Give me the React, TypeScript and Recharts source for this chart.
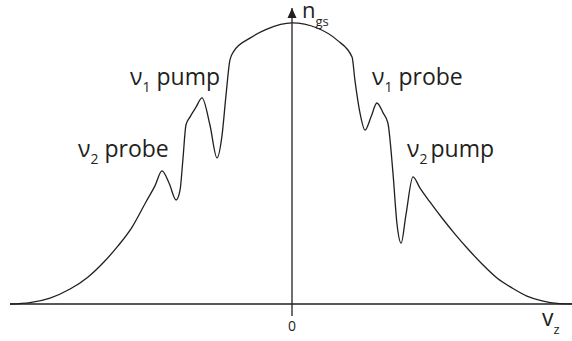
import { LineChart, Line, XAxis, YAxis, ReferenceLine, ReferenceDot } from "recharts";

// ground-state population vs. axial velocity, with burned holes
const vz = [
  -10, -9.29, -8.58, -7.87, -7.23, -6.67, -6.17, -5.67, -5.18, -4.86, -4.61, -4.36, -4.11,
  -3.97, -3.87, -3.76, -3.62, -3.4, -3.19, -2.91, -2.66, -2.48, -2.34, -2.2, -2.06, -1.49,
  -0.89, 0, 0.89, 1.6, 2.13, 2.23, 2.41, 2.59, 2.8, 3.01, 3.23, 3.4, 3.58, 3.72, 3.87, 4.04,
  4.29, 4.54, 4.89, 5.32, 5.78, 6.24, 6.74, 7.27, 7.8, 8.33, 8.87, 9.4, 10,
];
const ngs = [
  0, 0.005, 0.021, 0.053, 0.096, 0.149, 0.206, 0.273, 0.362, 0.419, 0.472, 0.429, 0.369,
  0.404, 0.511, 0.635, 0.663, 0.699, 0.731, 0.635, 0.518, 0.599, 0.741, 0.866, 0.897, 0.943,
  0.975, 0.997, 0.979, 0.936, 0.876, 0.795, 0.678, 0.617, 0.663, 0.713, 0.678, 0.642, 0.465,
  0.287, 0.216, 0.316, 0.451, 0.411, 0.362, 0.305, 0.248, 0.195, 0.142, 0.092, 0.057, 0.028,
  0.011, 0.002, 0,
];

const data = vz.map((v, i) => ({ v, n: ngs[i] }));

const INK = "#231f20";
const FONT = "'Open Sans', sans-serif";

// arrowhead on top of the n_gs axis
function Arrowhead(props: any) {
  const { cx, cy } = props;
  return <polygon points={`${cx},${cy} ${cx - 4.5},${cy + 10} ${cx + 4.5},${cy + 10}`} fill={INK} />;
}

function Beam({ x, y, sub, word, gap }: { x: number; y: number; sub: string; word: string; gap: number }) {
  return (
    <text x={x} y={y} fill={INK} fontFamily={FONT} fontSize={23}>
      ν
      <tspan fontSize={14} dy={7}>
        {sub}
      </tspan>
      <tspan dy={-7} dx={gap}>
        {word}
      </tspan>
    </text>
  );
}

export default function App() {
  return (
    <div style={{ position: "absolute", left: 0, top: 0, width: 572, height: 341, overflow: "hidden", background: "#fff" }}>
      <LineChart width={574} height={341} data={data} margin={{ top: 8, right: 0, bottom: 7, left: 10 }}>
        <XAxis
          type="number"
          dataKey="v"
          domain={[-10, 10]}
          ticks={[0]}
          height={30}
          tickSize={12}
          tickMargin={5}
          axisLine={{ stroke: INK, strokeWidth: 1.3 }}
          tickLine={{ stroke: INK, strokeWidth: 1.3 }}
          tick={{ fill: INK, fontSize: 14, fontFamily: FONT }}
        />
        <YAxis type="number" domain={[0, 1.05]} hide />
        <ReferenceLine x={0} stroke={INK} strokeWidth={1.3} />
        <ReferenceDot x={0} y={1.05} shape={Arrowhead} />
        <Line
          type="monotone"
          dataKey="n"
          stroke={INK}
          strokeWidth={1.3}
          dot={false}
          isAnimationActive={false}
        />
        <Beam x={130} y={85} sub="1" word="pump" gap={6} />
        <Beam x={372} y={85} sub="1" word="probe" gap={6} />
        <Beam x={78} y={157} sub="2" word="probe" gap={6} />
        <Beam x={407} y={157} sub="2" word="pump" gap={3} />
        <text x={302} y={18} fill={INK} fontFamily={FONT} fontSize={22}>
          n
          <tspan fontSize={13} dy={8}>
            gs
          </tspan>
        </text>
        <text x={542} y={326} fill={INK} fontFamily={FONT} fontSize={23}>
          v
          <tspan fontSize={13} dy={8}>
            z
          </tspan>
        </text>
      </LineChart>
    </div>
  );
}
